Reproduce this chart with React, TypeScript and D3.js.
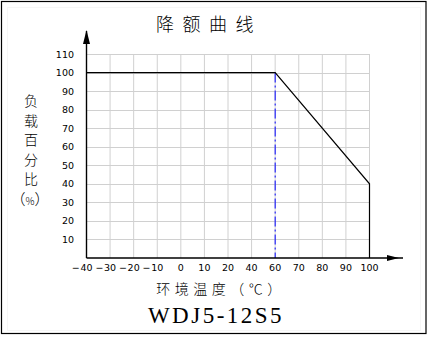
import React from "react";
import * as d3 from "d3";

// Temperature categories along the x axis (evenly spaced, as printed)
const tempLabels = ["-40", "-30", "-20", "-10", "0", "10", "20", "40", "60", "70", "80", "90", "100"];
// Load percentage ticks
const loadTicks = [10, 20, 30, 40, 50, 60, 70, 80, 90, 100, 110];
// Derating curve: temperature category -> load %
const curveTemps = ["-40", "60", "100", "100"];
const curveLoads = [100, 100, 40, 0];
// Derating start temperature (marked with a dash-dot line)
const deratingStart = "60";

const title = "降额曲线";
const yTitleChars = ["负", "载", "百", "分", "比"];
const xTitle = "环境温度（℃）";
const modelName = "WDJ5-12S5";

const W = 429;
const H = 337;

export default function App() {
  const x = d3.scalePoint<string>().domain(tempLabels).range([86.5, 369.5]);
  const y = d3.scaleLinear().domain([0, 110]).range([258, 54]);

  const x0 = x(tempLabels[0])!;
  const x1 = x(tempLabels[tempLabels.length - 1])!;
  const yBase = y(0);
  const yTop = y(110);

  const line = d3
    .line<number>()
    .x((i) => x(curveTemps[i])!)
    .y((i) => y(curveLoads[i]));

  const tickFont = "'DejaVu Sans', sans-serif";
  const cjkFont = "'Noto Sans CJK SC', sans-serif";

  return (
    <svg
      width={W}
      height={H}
      style={{ position: "absolute", left: 0, top: 0, background: "#fff" }}
    >
      <rect x={0} y={0} width={W} height={H} fill="#fff" />
      {/* frame */}
      <rect x={1.5} y={1.5} width={424.5} height={332} fill="none" stroke="#000" strokeWidth={1.2} />
      <rect x={7.5} y={7.5} width={413} height={323} fill="none" stroke="#f6f6f6" strokeWidth={1} />

      {/* title */}
      <text
        x={209}
        y={31}
        textAnchor="middle"
        fontFamily={cjkFont}
        fontSize={18}
        fontWeight={300}
        letterSpacing={8.5}
        fill="#000"
      >
        {title}
      </text>

      {/* grid */}
      <g stroke="#d0d0d0" strokeWidth={1}>
        {loadTicks.map((v) => (
          <line key={"h" + v} x1={x0} x2={x1} y1={Math.round(y(v)) + 0.5} y2={Math.round(y(v)) + 0.5} />
        ))}
        {tempLabels.slice(1).map((t) => (
          <line key={"v" + t} x1={x(t)} x2={x(t)} y1={yTop} y2={yBase} />
        ))}
      </g>

      {/* dash-dot marker at derating start */}
      <line
        x1={x(deratingStart)}
        x2={x(deratingStart)}
        y1={y(100)}
        y2={yBase}
        stroke="#0000ff"
        strokeWidth={1}
        strokeDasharray="10,3,2,3"
      />

      {/* derating curve */}
      <path
        d={line(d3.range(curveTemps.length)) || ""}
        fill="none"
        stroke="#000"
        strokeWidth={1.2}
      />

      {/* axes */}
      <line x1={x0} x2={x0} y1={31} y2={yBase} stroke="#000" strokeWidth={1.4} />
      <path d={`M${x0},30 L${x0 - 3.5},44 L${x0 + 3.5},44 Z`} fill="#000" />
      <line x1={x0} x2={403} y1={yBase} y2={yBase} stroke="#000" strokeWidth={1.4} />
      <path d={`M399,${yBase} L387,${yBase - 3} L387,${yBase + 3} Z`} fill="#000" />

      {/* y tick labels */}
      {loadTicks.map((v) => (
        <text
          key={"yl" + v}
          x={74}
          y={y(v) + 3.5}
          textAnchor="end"
          fontFamily={tickFont}
          fontSize={9.5}
          fill="#000"
        >
          {v}
        </text>
      ))}

      {/* x tick labels: digits centred on tick, minus sign hanging left */}
      {tempLabels.map((t) => {
        const neg = t.startsWith("-");
        const digits = neg ? t.slice(1) : t;
        const cx = x(t)!;
        const half = digits.length * 3.1;
        return (
          <g key={"xl" + t} fontFamily={tickFont} fontSize={9.5} fill="#000">
            <text x={cx} y={270.5} textAnchor="middle">
              {digits}
            </text>
            {neg && (
              <text x={cx - half - 0.5} y={270.5} textAnchor="end">
                −
              </text>
            )}
          </g>
        );
      })}

      {/* y title, stacked vertically */}
      {yTitleChars.map((c, i) => (
        <text
          key={"yt" + i}
          x={31}
          y={106 + i * 19.5}
          textAnchor="middle"
          fontFamily={cjkFont}
          fontSize={14}
          fontWeight={300}
          fill="#000"
        >
          {c}
        </text>
      ))}
      <text x={30} y={205} textAnchor="middle" fontFamily={cjkFont} fontSize={15} fontWeight={300} fill="#000">
        （<tspan fontSize={10}>%</tspan>）
      </text>

      {/* x title */}
      <text
        x={221}
        y={294}
        textAnchor="middle"
        fontFamily={cjkFont}
        fontSize={14}
        fontWeight={300}
        letterSpacing={4.5}
        fill="#000"
      >
        {xTitle}
      </text>

      {/* model name */}
      <text
        x={216}
        y={323}
        textAnchor="middle"
        fontFamily="'Liberation Serif', 'DejaVu Serif', serif"
        fontSize={23}
        letterSpacing={2.5}
        fill="#000"
      >
        {modelName}
      </text>
    </svg>
  );
}
